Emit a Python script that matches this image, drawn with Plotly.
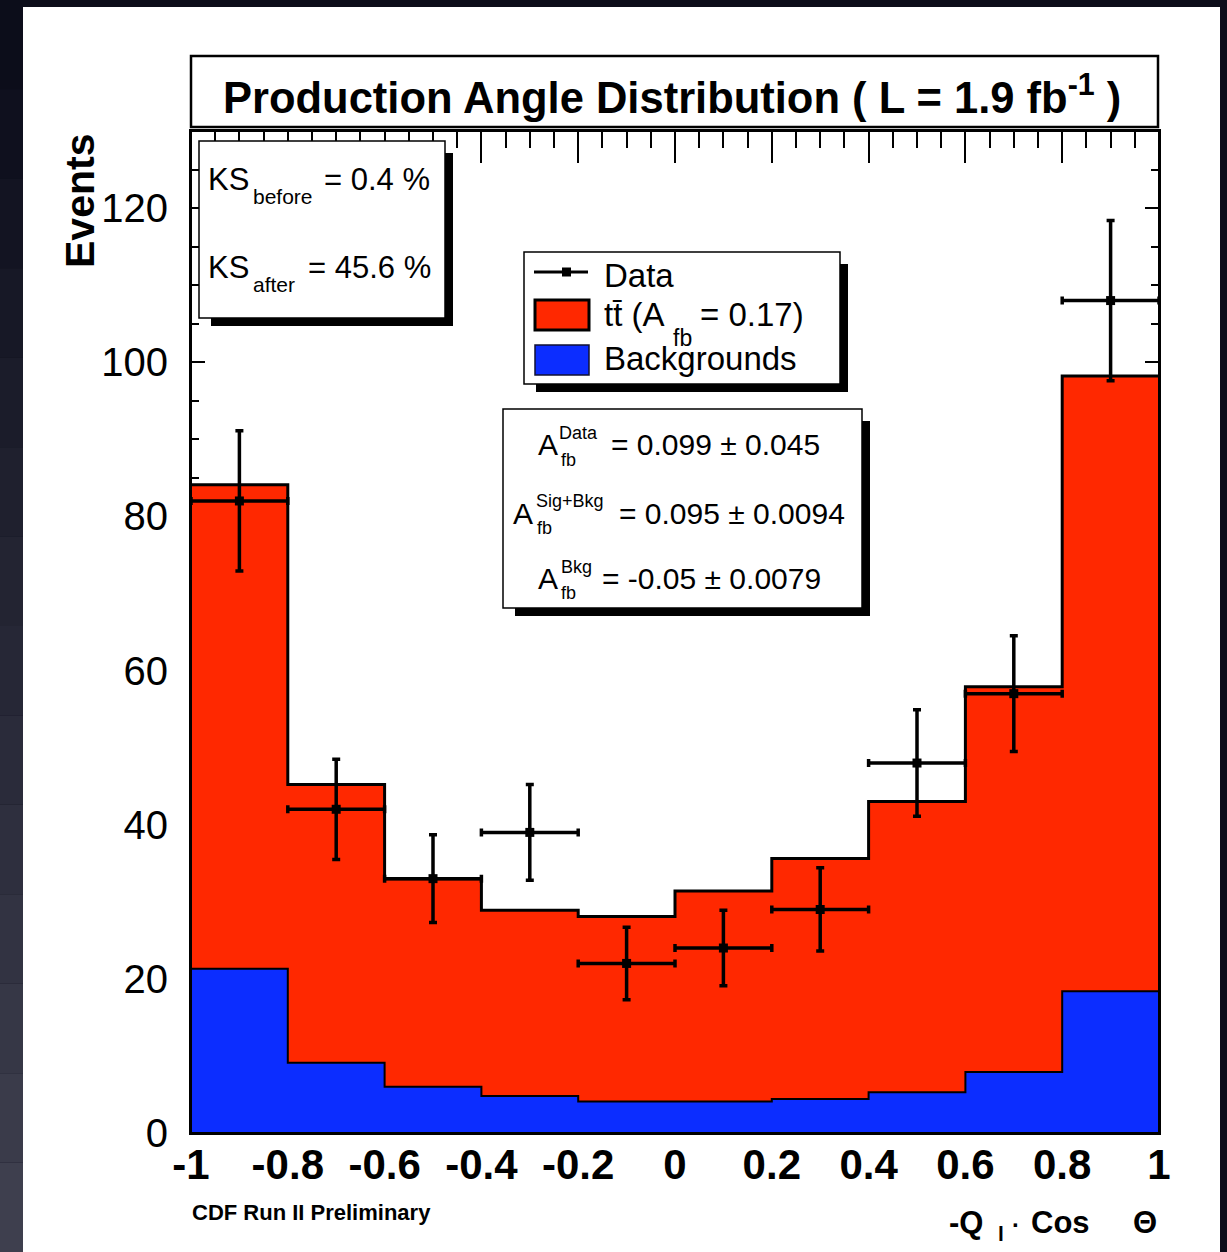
import plotly.graph_objects as go

# ---------------- data ----------------
bin_edges = [-1.0, -0.8, -0.6, -0.4, -0.2, 0.0, 0.2, 0.4, 0.6, 0.8, 1.0]
bin_centers = [-0.9, -0.7, -0.5, -0.3, -0.1, 0.1, 0.3, 0.5, 0.7, 0.9]
bin_halfwidth = [0.1, 0.1, 0.1, 0.1, 0.1, 0.1, 0.1, 0.1, 0.1, 0.1]
ttbar_plus_bkg = [84.1, 45.2, 33.0, 28.9, 28.1, 31.4, 35.6, 43.0, 57.9, 98.2]
backgrounds = [21.3, 9.1, 6.0, 4.8, 4.1, 4.1, 4.4, 5.3, 7.9, 18.4]
data_events = [82, 42, 33, 39, 22, 24, 29, 48, 57, 108]
data_err = [9.1, 6.5, 5.7, 6.2, 4.7, 4.9, 5.4, 6.9, 7.5, 10.4]

x_tick_vals = [-1, -0.8, -0.6, -0.4, -0.2, 0, 0.2, 0.4, 0.6, 0.8, 1]
x_tick_text = ["-1", "-0.8", "-0.6", "-0.4", "-0.2", "0", "0.2", "0.4", "0.6", "0.8", "1"]
y_tick_vals = [0, 20, 40, 60, 80, 100, 120]
y_tick_text = ["0", "20", "40", "60", "80", "100", "120"]

RED = "#ff2800"
BLUE = "#0c2dff"
FONT = "Liberation Sans, Arial, Helvetica, sans-serif"

W, H = 1227, 1252
ML, MR, MT, MB = 191, 68, 131, 119
PW = W - ML - MR
PH = H - MT - MB


def PX(x):
    return (x - ML) / PW


def PY(y):
    return (H - MB - y) / PH


fig = go.Figure()

# stacked histogram (total = ttbar + bkg) as filled steps
fig.add_trace(go.Scatter(
    x=bin_edges, y=ttbar_plus_bkg + [ttbar_plus_bkg[-1]],
    mode="lines", line=dict(shape="hv", color="black", width=3),
    fill="tozeroy", fillcolor=RED, showlegend=False, hoverinfo="skip"))
fig.add_trace(go.Scatter(
    x=bin_edges, y=backgrounds + [backgrounds[-1]],
    mode="lines", line=dict(shape="hv", color="black", width=2),
    fill="tozeroy", fillcolor=BLUE, showlegend=False, hoverinfo="skip"))
# data points
fig.add_trace(go.Scatter(
    x=bin_centers, y=data_events, mode="markers",
    marker=dict(symbol="square", size=9, color="black"),
    error_y=dict(type="data", array=data_err, color="black", thickness=3.5, width=4),
    error_x=dict(type="data", array=bin_halfwidth, color="black", thickness=3.5, width=4),
    showlegend=False))

shapes = []
# dark surroundings
shapes.append(dict(type="rect", xref="paper", yref="paper", layer="below",
                   x0=PX(0), x1=PX(W), y0=PY(0), y1=PY(H),
                   fillcolor="#0c0d1a", line=dict(width=0)))
# left-strip gradient (dark navy at top to grey at bottom)
nb = 14
for i in range(nb):
    t = i / (nb - 1)
    r = int(12 + t * 50)
    g = int(13 + t * 50)
    b = int(26 + t * 52)
    shapes.append(dict(type="rect", xref="paper", yref="paper", layer="below",
                       x0=PX(0), x1=PX(23), y0=PY(H * i / nb), y1=PY(H * (i + 1) / nb),
                       fillcolor=f"rgb({r},{g},{b})", line=dict(width=0)))
# white panel
shapes.append(dict(type="rect", xref="paper", yref="paper", layer="below",
                   x0=PX(23), x1=PX(1220), y0=PY(7), y1=PY(H + 5),
                   fillcolor="white", line=dict(width=0)))
# frame above the fills
shapes.append(dict(type="rect", xref="paper", yref="paper",
                   x0=0, x1=1, y0=0, y1=1, line=dict(color="black", width=2)))
# title box
shapes.append(dict(type="rect", xref="paper", yref="paper",
                   x0=PX(191), x1=PX(1158), y0=PY(56), y1=PY(127),
                   fillcolor="white", line=dict(color="black", width=2.5)))


def shadow_box(x0, y0, x1, y1, off=8):
    shapes.append(dict(type="rect", xref="paper", yref="paper",
                       x0=PX(x0 + off + 4), x1=PX(x1 + off), y0=PY(y0 + off + 4), y1=PY(y1 + off),
                       fillcolor="black", line=dict(width=0)))
    shapes.append(dict(type="rect", xref="paper", yref="paper",
                       x0=PX(x0), x1=PX(x1), y0=PY(y0), y1=PY(y1),
                       fillcolor="white", line=dict(color="black", width=1.5)))


shadow_box(199, 141, 445, 318)      # KS box
shadow_box(524, 252, 840, 384)      # legend
shadow_box(503, 409, 862, 608)      # A_fb box

# legend symbols
shapes.append(dict(type="line", xref="paper", yref="paper",
                   x0=PX(534), x1=PX(588), y0=PY(272), y1=PY(272),
                   line=dict(color="black", width=3)))
shapes.append(dict(type="rect", xref="paper", yref="paper",
                   x0=PX(562), x1=PX(571), y0=PY(267.5), y1=PY(276.5),
                   fillcolor="black", line=dict(width=0)))
shapes.append(dict(type="rect", xref="paper", yref="paper",
                   x0=PX(535), x1=PX(589), y0=PY(300), y1=PY(330),
                   fillcolor=RED, line=dict(color="black", width=3)))
shapes.append(dict(type="rect", xref="paper", yref="paper",
                   x0=PX(535), x1=PX(589), y0=PY(345), y1=PY(375),
                   fillcolor=BLUE, line=dict(color="#111133", width=1.5)))

ann = []


def text(x, y, s, size, bold=False, xanchor="left", yanchor="middle", angle=0):
    ann.append(dict(xref="paper", yref="paper", x=PX(x), y=PY(y), text=(f"<b>{s}</b>" if bold else s),
                    showarrow=False, xanchor=xanchor, yanchor=yanchor, textangle=angle,
                    font=dict(family=FONT, size=size, color="black")))


# title
text(672, 95, "Production Angle Distribution ( L = 1.9 fb<sup>-1</sup> )", 43.5, bold=True, xanchor="center")
# axis titles
text(80, 201, "Events", 41, bold=True, xanchor="center", angle=-90)
text(947, 1222, "-Q", 31, bold=True)
text(996, 1233, "l", 21, bold=True)
text(1016, 1224, "·", 24, bold=True, xanchor="center")
text(1029, 1222, "Cos", 31, bold=True)
text(1159, 1222, "Θ", 31, bold=True, xanchor="right")
text(190, 1212, "CDF Run II Preliminary", 22, bold=True)

# KS box
text(206, 179, "KS", 31)
text(251, 197, "before", 21)
text(322, 179, "= 0.4 %", 31)
text(206, 267, "KS", 31)
text(251, 284, "after", 21)
text(306, 267, "= 45.6 %", 31)

# legend texts
text(602, 275, "Data", 33)
text(602, 314, "tt\u0304 (A", 33)
text(671, 338, "fb", 23)
text(698, 314, "= 0.17)", 33)
text(602, 358, "Backgrounds", 33)

# A_fb box
text(536, 445, "A", 30)
text(557, 433, "Data", 18)
text(559, 460, "fb", 18)
text(609, 445, "= 0.099 ± 0.045", 30)

text(511, 513, "A", 30)
text(534, 501, "Sig+Bkg", 18)
text(535, 528, "fb", 18)
text(617, 513, "= 0.095 ± 0.0094", 30)

text(536, 578, "A", 30)
text(559, 567, "Bkg", 18)
text(559, 593, "fb", 18)
text(600, 578, "= -0.05 ± 0.0079", 30)

fig.update_layout(
    width=W, height=H,
    margin=dict(l=ML, r=MR, t=MT, b=MB, pad=0),
    paper_bgcolor="#0c0d1a", plot_bgcolor="white",
    showlegend=False,
    shapes=shapes, annotations=ann,
    xaxis=dict(range=[-1, 1], tickmode="array", tickvals=x_tick_vals, ticktext=x_tick_text,
               ticks="inside", ticklen=32, tickwidth=2, tickcolor="black",
               minor=dict(tickmode="linear", tick0=-1, dtick=0.05, ticks="inside",
                          ticklen=17, tickwidth=2, tickcolor="black"),
               mirror="ticks", showline=True, linecolor="black", linewidth=2,
               showgrid=False, zeroline=False, layer="below traces", automargin=False,
               tickfont=dict(family=FONT, size=42, color="black", weight="bold"),
               ticklabelstandoff=-6),
    yaxis=dict(range=[0, 130], tickmode="array", tickvals=y_tick_vals, ticktext=y_tick_text,
               ticks="inside", ticklen=14, tickwidth=2, tickcolor="black",
               minor=dict(tickmode="linear", tick0=0, dtick=5, ticks="inside",
                          ticklen=8, tickwidth=2, tickcolor="black"),
               mirror="ticks", showline=True, linecolor="black", linewidth=2,
               showgrid=False, zeroline=False, layer="below traces", automargin=False,
               tickfont=dict(family=FONT, size=40, color="black"),
               ticklabelstandoff=13),
)

fig.write_html("out.html")
